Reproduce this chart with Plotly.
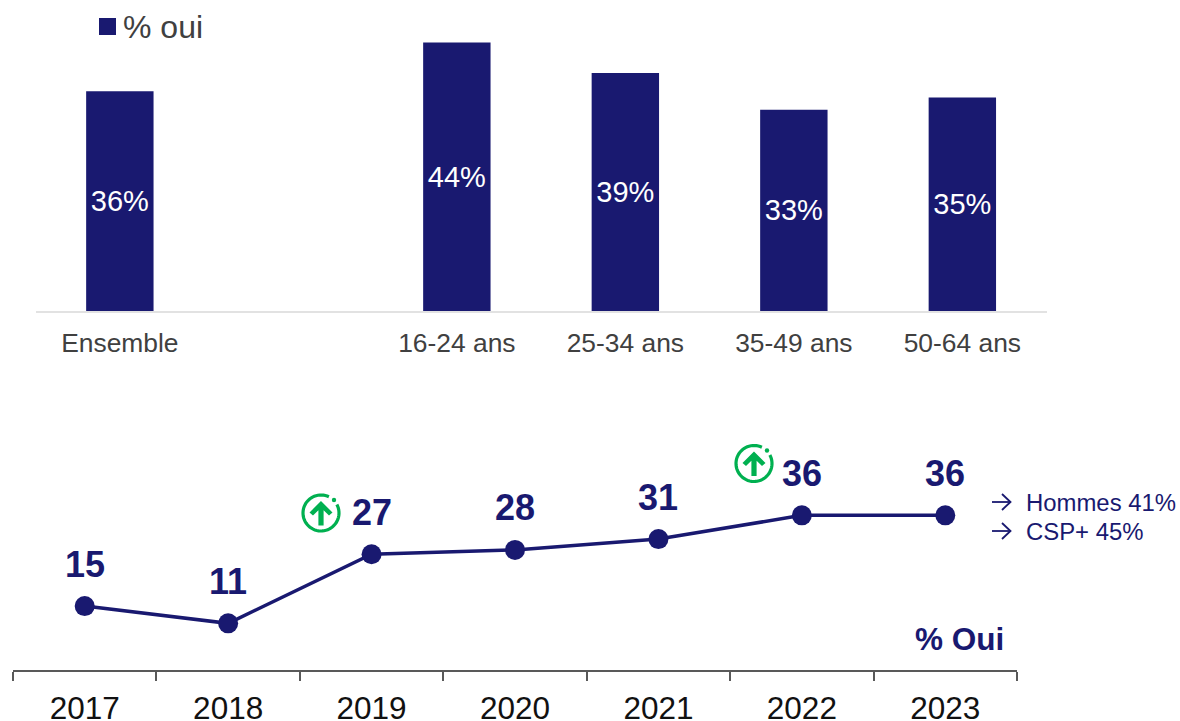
import math
import plotly.graph_objects as go

W, H = 1180, 721
NAVY = "#191970"
GREEN = "#00B050"
GREY = "#404040"
FONT = "Liberation Sans"

bar_categories = ["Ensemble", " ", "16-24 ans", "25-34 ans", "35-49 ans", "50-64 ans"]
bar_x = ["Ensemble", "16-24 ans", "25-34 ans", "35-49 ans", "50-64 ans"]
bar_values = [36, 44, 39, 33, 35]
bar_labels = ["36%", "44%", "39%", "33%", "35%"]

years = ["2017", "2018", "2019", "2020", "2021", "2022", "2023"]
line_values = [15, 11, 27, 28, 30.5, 36, 36]
line_labels = ["15", "11", "27", "28", "31", "36", "36"]
side_notes = ["Hommes 41%", "CSP+ 45%"]


def px(x):
    return x / W


def py(y):
    return 1 - y / H


fig = go.Figure()
fig.add_trace(go.Bar(
    x=bar_x, y=bar_values, width=0.4, marker=dict(color=NAVY, line_width=0),
    text=bar_labels, textposition="inside", insidetextanchor="middle", textangle=0,
    textfont=dict(family=FONT, size=29, color="white"), xaxis="x", yaxis="y",
    showlegend=False,
))
fig.add_trace(go.Scatter(
    x=years, y=line_values, mode="lines+markers",
    line=dict(color=NAVY, width=3.5), marker=dict(color=NAVY, size=20),
    xaxis="x2", yaxis="y2", showlegend=False,
))

annotations = []
for i, (v, lab) in enumerate(zip(line_values, line_labels)):
    annotations.append(dict(
        x=i, y=v, xref="x2", yref="y2", text=f"<b>{lab}</b>", showarrow=False, yshift=42,
        font=dict(family=FONT, size=36, color=NAVY), xanchor="center", yanchor="middle",
    ))


def note(x, y, text, size, color, anchor="left", bold=False):
    annotations.append(dict(
        x=px(x), y=py(y), xref="paper", yref="paper", showarrow=False,
        text=f"<b>{text}</b>" if bold else text, xanchor=anchor, yanchor="middle",
        font=dict(family=FONT, size=size, color=color), borderpad=0, borderwidth=0,
    ))


note(122.5, 27, "% oui", 32, GREY)
note(915, 639, "% Oui", 31.5, NAVY, bold=True)
for t, y in zip(side_notes, [502, 531]):
    note(1026, y, t, 23.9, NAVY)

shapes = [dict(type="rect", xref="paper", yref="paper", x0=px(99), x1=px(116),
               y0=py(18), y1=py(35), fillcolor=NAVY, line_width=0)]


def poly(points, close=True):
    s = "M " + " L ".join(f"{px(a):.5f},{py(b):.5f}" for a, b in points)
    return s + (" Z" if close else "")


def side_arrow(y):
    for pts in ([(992, y), (1010, y)], [(1002, y - 8), (1010.5, y), (1002, y + 8)]):
        shapes.append(dict(type="path", xref="paper", yref="paper", path=poly(pts, False),
                           line=dict(color=NAVY, width=1.8), fillcolor="rgba(0,0,0,0)"))


side_arrow(502)
side_arrow(531)


def badge(cx, cy):
    r = 18
    ring = [(cx + r * math.cos(math.radians(d)), cy + r * math.sin(math.radians(d)))
            for d in range(-28, 300, 6)]
    shapes.append(dict(type="path", xref="paper", yref="paper", path=poly(ring, False),
                       line=dict(color=GREEN, width=3.2), fillcolor="rgba(0,0,0,0)"))
    dot = 2.2
    shapes.append(dict(type="circle", xref="paper", yref="paper",
                       x0=px(cx + 13 - dot), x1=px(cx + 13 + dot),
                       y0=py(cy - 13 - dot), y1=py(cy - 13 + dot),
                       fillcolor=GREEN, line_width=0))
    arrow = [(0, -12), (11.5, -0.5), (8, 2.5), (2.6, -2.8), (2.6, 12.5), (-2.6, 12.5),
             (-2.6, -2.8), (-8, 2.5), (-11.5, -0.5)]
    shapes.append(dict(type="path", xref="paper", yref="paper",
                       path=poly([(cx + a, cy + b) for a, b in arrow]),
                       fillcolor=GREEN, line_width=0))


badge(321, 513)
badge(754, 463.5)

fig.update_layout(
    width=W, height=H, margin=dict(l=0, r=0, t=0, b=0), autosize=False,
    paper_bgcolor="white", plot_bgcolor="white", showlegend=False,
    font=dict(family=FONT), bargap=0.6,
    annotations=annotations, shapes=shapes,
    xaxis=dict(domain=[px(35.6), px(1046.6)], anchor="y", type="category", automargin=False,
               categoryorder="array", categoryarray=bar_categories, range=[-0.5, 5.5],
               tickvals=bar_categories, ticktext=bar_categories,
               showgrid=False, zeroline=False, showline=True, linecolor="#E2E2E2", linewidth=2,
               ticks="", tickfont=dict(family=FONT, size=26.4, color=GREY), ticklabelstandoff=7),
    yaxis=dict(domain=[py(311.3), py(11.3)], anchor="x", range=[0, 300 / 6.11], automargin=False,
               visible=False, showgrid=False, zeroline=False),
    xaxis2=dict(domain=[px(13), px(1017)], anchor="y2", type="category", automargin=False,
                categoryorder="array", categoryarray=years, range=[-0.5, 6.5],
                tickson="boundaries", ticks="outside", ticklen=9, tickwidth=1.5,
                tickcolor="#595959", showgrid=False, zeroline=False, showline=True,
                linecolor="#595959", linewidth=1.5,
                tickfont=dict(family=FONT, size=31.5, color="#111111"), ticklabelstandoff=9),
    yaxis2=dict(domain=[py(670), py(439.3)], anchor="x2", range=[0.2, 53.6], automargin=False,
                visible=False, showgrid=False, zeroline=False),
)

fig.write_html("out.html", config={"displayModeBar": False},
               post_script="document.body.style.margin='0';")
